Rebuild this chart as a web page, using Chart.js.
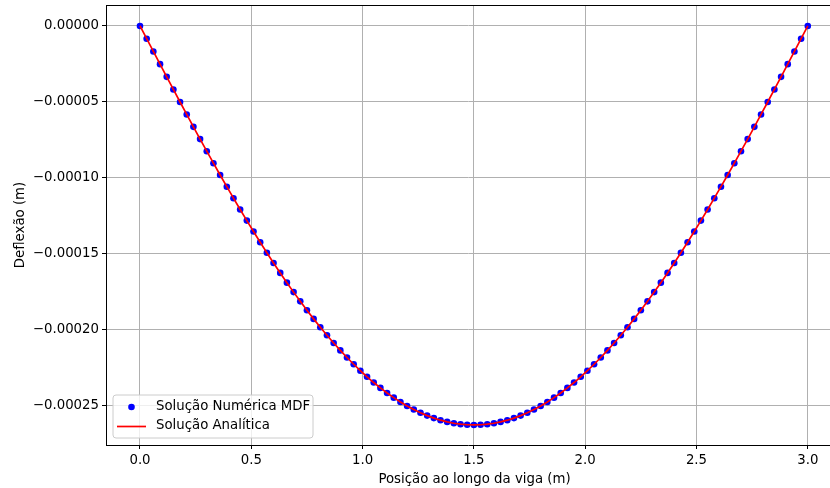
<!DOCTYPE html>
<html>
<head>
<meta charset="utf-8">
<script src="https://cdn.jsdelivr.net/npm/chart.js@4.4.1/dist/chart.umd.min.js"></script>
<style>
    html, body { margin: 0; padding: 0; overflow: hidden; background: #fff; }
    #wrap { width: 830px; height: 488px; }
</style>
</head>
<body>
<div id="wrap"><canvas id="grafico" width="830" height="488"></canvas></div>
<script>
// posição ao longo da viga (m)
const posicao = [0, 0.03, 0.06, 0.09, 0.12, 0.15, 0.18, 0.21, 0.24, 0.27, 0.3, 0.33, 0.36, 0.39, 0.42, 0.45, 0.48, 0.51, 0.54, 0.57,
    0.6, 0.63, 0.66, 0.69, 0.72, 0.75, 0.78, 0.81, 0.84, 0.87, 0.9, 0.93, 0.96, 0.99, 1.02, 1.05, 1.08, 1.11, 1.14, 1.17,
    1.2, 1.23, 1.26, 1.29, 1.32, 1.35, 1.38, 1.41, 1.44, 1.47, 1.5, 1.53, 1.56, 1.59, 1.62, 1.65, 1.68, 1.71, 1.74, 1.77,
    1.8, 1.83, 1.86, 1.89, 1.92, 1.95, 1.98, 2.01, 2.04, 2.07, 2.1, 2.13, 2.16, 2.19, 2.22, 2.25, 2.28, 2.31, 2.34, 2.37,
    2.4, 2.43, 2.46, 2.49, 2.52, 2.55, 2.58, 2.61, 2.64, 2.67, 2.7, 2.73, 2.76, 2.79, 2.82, 2.85, 2.88, 2.91, 2.94, 2.97, 3.0]

// deflexão (m) - solução numérica MDF
const deflexaoMDF = [0, -8.41e-6, -16.82e-6, -25.20e-6, -33.56e-6, -41.87e-6, -50.14e-6, -58.35e-6, -66.50e-6, -74.57e-6,
    -82.56e-6, -90.46e-6, -98.26e-6, -105.95e-6, -113.53e-6, -120.98e-6, -128.31e-6, -135.50e-6, -142.55e-6, -149.45e-6,
    -156.20e-6, -162.78e-6, -169.20e-6, -175.44e-6, -181.51e-6, -187.39e-6, -193.08e-6, -198.57e-6, -203.87e-6, -208.96e-6,
    -213.85e-6, -218.52e-6, -222.98e-6, -227.22e-6, -231.23e-6, -235.02e-6, -238.58e-6, -241.90e-6, -244.99e-6, -247.85e-6,
    -250.46e-6, -252.83e-6, -254.95e-6, -256.83e-6, -258.46e-6, -259.85e-6, -260.98e-6, -261.86e-6, -262.49e-6, -262.87e-6,
    -263.00e-6,
    -262.87e-6, -262.49e-6, -261.86e-6, -260.98e-6, -259.85e-6, -258.46e-6, -256.83e-6, -254.95e-6, -252.83e-6, -250.46e-6,
    -247.85e-6, -244.99e-6, -241.90e-6, -238.58e-6, -235.02e-6, -231.23e-6, -227.22e-6, -222.98e-6, -218.52e-6, -213.85e-6,
    -208.96e-6, -203.87e-6, -198.57e-6, -193.08e-6, -187.39e-6, -181.51e-6, -175.44e-6, -169.20e-6, -162.78e-6, -156.20e-6,
    -149.45e-6, -142.55e-6, -135.50e-6, -128.31e-6, -120.98e-6, -113.53e-6, -105.95e-6, -98.26e-6, -90.46e-6, -82.56e-6,
    -74.57e-6, -66.50e-6, -58.35e-6, -50.14e-6, -41.87e-6, -33.56e-6, -25.20e-6, -16.82e-6, -8.41e-6, 0]

// solução analítica (coincide com a MDF nos nós)
const deflexaoAnalitica = deflexaoMDF

const ticksX = [0, 0.5, 1.0, 1.5, 2.0, 2.5, 3.0]
const ticksY = [0, -0.00005, -0.0001, -0.00015, -0.0002, -0.00025]

const legendas = ["Solução Numérica MDF", "Solução Analítica"]
const tituloX = "Posição ao longo da viga (m)"

const fonte = { family: "DejaVu Sans", size: 13.3 }

function pontos(xs, ys){
    return xs.map(function(x, i){ return { x: x, y: ys[i] } })
}

function formatY(v){
    if (Math.abs(v) < 1e-12) return "0.00000"
    return v.toFixed(5).replace("-", "\u2212")
}

function semPadding(s){
    s.paddingTop = 0
    s.paddingBottom = 0
    s.paddingLeft = 0
    s.paddingRight = 0
}

// moldura superior, título do eixo x e legenda dentro do gráfico
const extras = {
    id: "extras",
    afterDraw(chart){
        const ctx = chart.ctx
        const a = chart.chartArea
        ctx.save()
        ctx.strokeStyle = "#000"
        ctx.lineWidth = 1
        ctx.beginPath()
        ctx.moveTo(a.left, a.top + 0.5)
        ctx.lineTo(chart.width, a.top + 0.5)
        ctx.stroke()

        // o eixo original continua além da borda direita, o título fica centrado nele
        ctx.fillStyle = "#000"
        ctx.font = fonte.size + "px '" + fonte.family + "'"
        ctx.textBaseline = "middle"
        ctx.textAlign = "center"
        ctx.fillText(tituloX, 474.5, 480)

        // caixa da legenda
        const bx = 113, by = 395, bw = 200, bh = 43, r = 3
        ctx.beginPath()
        ctx.moveTo(bx + r, by)
        ctx.arcTo(bx + bw, by, bx + bw, by + bh, r)
        ctx.arcTo(bx + bw, by + bh, bx, by + bh, r)
        ctx.arcTo(bx, by + bh, bx, by, r)
        ctx.arcTo(bx, by, bx + bw, by, r)
        ctx.closePath()
        ctx.fillStyle = "rgba(255,255,255,0.8)"
        ctx.fill()
        ctx.strokeStyle = "#cccccc"
        ctx.stroke()

        const ds = chart.data.datasets
        ctx.fillStyle = ds[0].pointBackgroundColor
        ctx.beginPath()
        ctx.arc(131.5, 407, 3.3, 0, Math.PI * 2)
        ctx.fill()

        ctx.strokeStyle = ds[1].borderColor
        ctx.lineWidth = ds[1].borderWidth
        ctx.beginPath()
        ctx.moveTo(117, 426.5)
        ctx.lineTo(146, 426.5)
        ctx.stroke()

        ctx.fillStyle = "#000"
        ctx.textAlign = "left"
        ctx.fillText(ds[0].label, 156, 407)
        ctx.fillText(ds[1].label, 156, 426)
        ctx.restore()
    }
}

const grafico = document.getElementById("grafico")

new Chart(grafico, {
    type: "scatter",
    data: {
        datasets: [{
            label: legendas[0],
            data: pontos(posicao, deflexaoMDF),
            showLine: false,
            pointRadius: 3.3,
            pointBorderWidth: 0,
            pointBackgroundColor: "#0000ff",
            order: 1
        }, {
            label: legendas[1],
            data: pontos(posicao, deflexaoAnalitica),
            showLine: true,
            borderColor: "#ff0000",
            borderWidth: 1.7,
            pointRadius: 0,
            order: 0
        }]
    },
    options: {
        responsive: false,
        animation: false,
        layout: { autoPadding: false, padding: { left: 0, top: 5, right: 0, bottom: 0 } },
        plugins: {
            legend: { display: false },
            tooltip: { enabled: false }
        },
        scales: {
            x: {
                type: "linear",
                min: -0.1527,
                max: 3.0998,
                afterFit: function(s){ s.height = 43; semPadding(s) },
                afterBuildTicks: function(s){ s.ticks = ticksX.map(function(v){ return { value: v } }) },
                ticks: {
                    color: "#000",
                    font: fonte,
                    padding: 4,
                    maxRotation: 0,
                    autoSkip: false,
                    callback: function(v){ return v.toFixed(1) }
                },
                grid: { color: "#b0b0b0", lineWidth: 1, tickColor: "#000", tickLength: 4 },
                border: { color: "#000", width: 1 },
                title: { display: false }
            },
            y: {
                type: "linear",
                min: -0.0002762,
                max: 0.0000138,
                afterFit: function(s){ s.width = 106; semPadding(s) },
                afterBuildTicks: function(s){ s.ticks = ticksY.map(function(v){ return { value: v } }) },
                ticks: {
                    color: "#000",
                    font: fonte,
                    padding: 3,
                    autoSkip: false,
                    callback: formatY
                },
                grid: { color: "#b0b0b0", lineWidth: 1, tickColor: "#000", tickLength: 4 },
                border: { color: "#000", width: 1 },
                title: {
                    display: true,
                    text: "Deflexão (m)",
                    color: "#000",
                    font: fonte,
                    padding: { top: 13, bottom: 0 }
                }
            }
        }
    },
    plugins: [extras]
});
</script>
</body>
</html>
